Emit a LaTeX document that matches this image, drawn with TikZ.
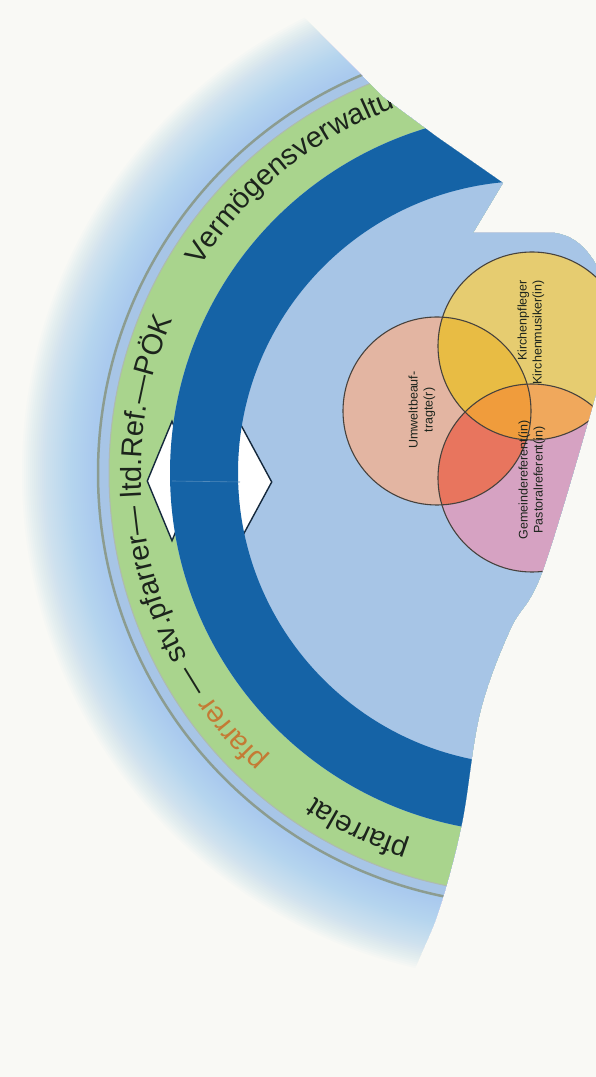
\documentclass[tikz,border=0pt]{standalone}
\usepackage{fontspec}
\setmainfont{Liberation Sans}
\usetikzlibrary{decorations.text,shapes.geometric}

\definecolor{paper}{HTML}{F9F9F5}
\definecolor{halo}{HTML}{9CCAEE}
\definecolor{skyfill}{HTML}{A7C5E6}
\definecolor{ringblue}{HTML}{1563A6}
\definecolor{ringgreen}{HTML}{A9D48D}
\definecolor{rimgray}{HTML}{8C9C90}
\definecolor{pfarrorange}{HTML}{C47A34}
\definecolor{inkdark}{HTML}{1C241C}
\definecolor{navy}{HTML}{14283C}
\definecolor{vennpink}{HTML}{E3B5A2}
\definecolor{vennyellow}{HTML}{E6CC70}
\definecolor{vennpurple}{HTML}{D6A2C2}
\definecolor{pinkyellow}{HTML}{E8BC44}
\definecolor{pinkpurple}{HTML}{E8755E}
\definecolor{yellowpurple}{HTML}{F0A85C}
\definecolor{vennall}{HTML}{F09C3C}

\newcommand\ringfont{\fontsize{29}{31}\selectfont}

\begin{document}
\begin{tikzpicture}[x=1pt, y=1pt,
  ringtext/.style={decorate, decoration={text along path, text align=left, text={#1}}},
  venntext/.style={rotate=90, font=\fontsize{12.5}{15}\selectfont, text=inkdark, align=center, inner sep=0},
  vennline/.style={draw=navy!70!brown, line width=1.1pt},
  diamondmark/.style={diamond, fill=white, draw=navy, line width=1.4pt, inner sep=0}
]
\useasboundingbox (0,0) rectangle (596,1077);
\fill[paper] (0,0) rectangle (596,1077);
\coordinate (ctr) at (530,604);
\coordinate (pk) at (437,666);
\coordinate (yl) at (532,731);
\coordinate (pu) at (532,599);

\begin{scope}
\clip (-60,1140) -- (255,1117) -- (297,1067) -- (383,980) -- (437,940) -- (503,894)
  -- (473,844) -- (555,844) .. controls (585,840) and (600,810) .. (610,780)
  -- (610,690) -- plot[smooth, tension=0.6] coordinates {(596,683) (543,507) (510,447)
  (480,364) (462,254) (440,170) (420,120) (385,40) (350,-40)} -- (-60,-40) -- cycle;

\foreach \r in {432,434,...,508}
  \fill[halo, opacity=0.04] (ctr) circle[radius=\r];
\fill[skyfill] (ctr) circle[radius=432];
\draw[rimgray, line width=2.5pt] (ctr) circle[radius=432];
\fill[ringgreen] (ctr) circle[radius=421];
\draw[rimgray!70, line width=1pt] (ctr) circle[radius=421];
\fill[skyfill] (ctr) circle[radius=360];

\node[diamondmark, minimum width=50, minimum height=120] (outermark) at (172,596) {};
\node[diamondmark, minimum width=64, minimum height=118] (innermark) at (240,595) {};
\fill[ringblue, even odd rule] (ctr) circle[radius=360] (ctr) circle[radius=292];
\draw[ringblue!75!white, line width=0.6pt] (outermark.center) -- (innermark.center);

\path[ringtext={|\ringfont\color{inkdark}|pfarrelat}]
  (ctr) ++(252:389) arc[start angle=252, end angle=228, radius=389];
\path[ringtext={|\ringfont\color{pfarrorange}|pfarrer|\ringfont\color{inkdark}| — stv.pfarrer— ltd.Ref.—PÖK}]
  (ctr) ++(227.5:389) arc[start angle=227.5, end angle=150, radius=389];
\path[ringtext={|\ringfont\color{inkdark}|Vermögensverwaltung}]
  (ctr) ++(148:389) arc[start angle=148, end angle=95, radius=389];

\fill[vennpink] (pk) circle[radius=94];
\fill[vennyellow] (yl) circle[radius=94];
\fill[vennpurple] (pu) circle[radius=94];
\begin{scope}
  \clip (pk) circle[radius=94];
  \fill[pinkyellow] (yl) circle[radius=94];
  \fill[pinkpurple] (pu) circle[radius=94];
\end{scope}
\begin{scope}
  \clip (yl) circle[radius=94];
  \fill[yellowpurple] (pu) circle[radius=94];
  \clip (pk) circle[radius=94];
  \fill[vennall] (pu) circle[radius=94];
\end{scope}
\draw[vennline] (pk) circle[radius=94];
\draw[vennline] (yl) circle[radius=94];
\draw[vennline] (pu) circle[radius=94];

\node[venntext] (pinktext) at (422,667) {Umweltbeauf-\\tragte(r)};
\node[venntext, align=right, anchor=east] (yellowtext) at (531,797) {Kirchenpfleger\\Kirchenmusiker(in)};
\node[venntext] (purpletext) at (532,597) {Gemeindereferent(in)\\Pastoralreferent(in)};
\end{scope}
\end{tikzpicture}
\end{document}
